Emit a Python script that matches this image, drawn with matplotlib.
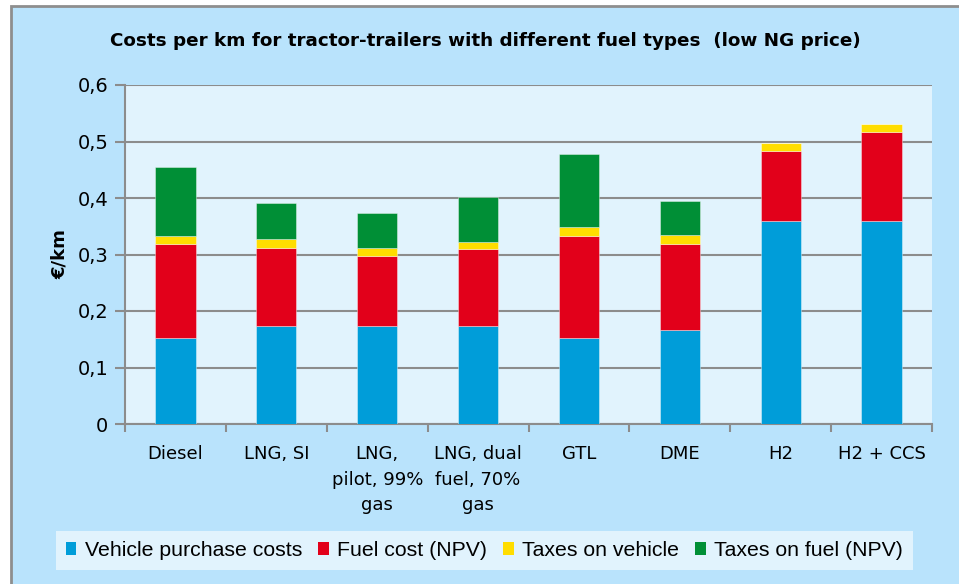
import matplotlib
matplotlib.use("Agg")
import matplotlib.pyplot as plt
from matplotlib.patches import Rectangle, Patch
import numpy as np

# cost components per fuel type, EUR/km
fuels = ["Diesel", "LNG, SI", "LNG,\npilot, 99%\ngas", "LNG, dual\nfuel, 70%\ngas",
         "GTL", "DME", "H2", "H2 + CCS"]
vehicle_purchase = [0.152, 0.173, 0.173, 0.173, 0.152, 0.166, 0.359, 0.359]
fuel_cost_npv = [0.167, 0.139, 0.125, 0.136, 0.181, 0.153, 0.124, 0.157]
taxes_vehicle = [0.014, 0.015, 0.014, 0.014, 0.015, 0.015, 0.015, 0.015]
taxes_fuel_npv = [0.122, 0.064, 0.061, 0.079, 0.129, 0.061, 0.0, 0.0]

series_names = ["Vehicle purchase costs", "Fuel cost (NPV)", "Taxes on vehicle",
                "Taxes on fuel (NPV)"]
series_colors = ["#009DD9", "#E2001A", "#FFDD00", "#008F36"]

yticks = [0, 0.1, 0.2, 0.3, 0.4, 0.5, 0.6]
ytick_labels = ["0", "0,1", "0,2", "0,3", "0,4", "0,5", "0,6"]

OUTER_BG = "#B9E3FC"
PLOT_BG = "#E1F3FD"
GRID = "#8C8C8C"

W, H = 959, 584
fig = plt.figure(figsize=(W / 100, H / 100), dpi=100)
fig.patch.set_facecolor("white")

# chart frame (gray border on left/top, runs off the right/bottom edge)
fig.add_artist(Rectangle((10.5 / W, -0.1), 1.2, 1.1 - 6.5 / H, transform=fig.transFigure,
                         facecolor=OUTER_BG, edgecolor="#8E8E8E", linewidth=2, zorder=0))

ax = fig.add_axes([125 / W, 160 / H, 807 / W, 339 / H])
ax.set_facecolor(PLOT_BG)

x = np.arange(len(fuels))
bottom = np.zeros(len(fuels))
for vals, col in zip([vehicle_purchase, fuel_cost_npv, taxes_vehicle, taxes_fuel_npv],
                     series_colors):
    vals = np.array(vals)
    ax.bar(x, vals, width=0.4, bottom=bottom, color=col,
           edgecolor=(1, 1, 1, 0.45), linewidth=0.6, zorder=3)
    bottom += vals

ax.set_xlim(-0.5, len(fuels) - 0.5)
ax.set_ylim(0, 0.6)
ax.set_yticks(yticks)
ax.set_yticklabels(ytick_labels, fontsize=14, family="DejaVu Sans")
ax.yaxis.grid(True, color=GRID, linewidth=1.5, zorder=1)
ax.set_axisbelow(True)

ax.set_xticks(x)
ax.set_xticklabels(fuels, fontsize=13, linespacing=1.55, family="DejaVu Sans", va="top")
ax.set_xticks(np.arange(-0.5, len(fuels)), minor=True)
ax.tick_params(axis="x", which="major", length=0, pad=15)
ax.tick_params(axis="x", which="minor", length=6, width=1.5, color=GRID, direction="out")
ax.tick_params(axis="y", length=7, width=1.5, color=GRID, pad=5)

for side in ["top", "right"]:
    ax.spines[side].set_visible(False)
for side in ["left", "bottom"]:
    ax.spines[side].set_color(GRID)
    ax.spines[side].set_linewidth(1.5)

ax.set_ylabel("€/km", fontsize=13, fontweight="bold", labelpad=6)

fig.text(485 / W, 1 - 41 / H,
         "Costs per km for tractor-trailers with different fuel types  (low NG price)",
         ha="center", va="center", fontsize=13.2, fontweight="bold",
         family="DejaVu Sans")

handles = [Patch(facecolor=c, edgecolor="none") for c in series_colors]
leg = fig.legend(handles, series_names, loc="center", ncol=4,
                 bbox_to_anchor=(484.5 / W, 1 - 550.5 / H),
                 prop={"family": "Liberation Sans", "size": 15.3},
                 handlelength=0.5, handleheight=0.5, handletextpad=0.4,
                 columnspacing=0.75, borderpad=0.45, frameon=True, fancybox=False)
leg.get_frame().set_facecolor(PLOT_BG)
leg.get_frame().set_edgecolor("none")
leg.get_frame().set_alpha(1)

fig.savefig("out.png", dpi=100, facecolor=fig.get_facecolor())
